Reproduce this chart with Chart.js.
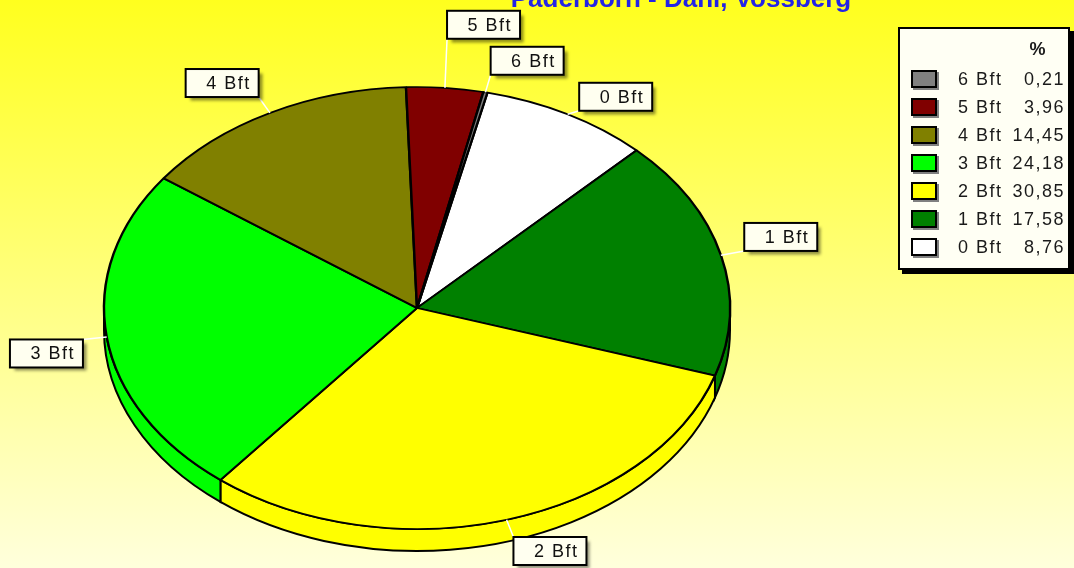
<!DOCTYPE html>
<html>
<head>
<meta charset="utf-8">
<script src="https://cdn.jsdelivr.net/npm/chart.js@4"></script>
<style>
    html, body { margin: 0; padding: 0; }
    body {
        width: 1074px; height: 568px; overflow: hidden; position: relative;
        background: linear-gradient(#ffff1e, #ffffdc);
        font-family: "Liberation Sans", Arial, sans-serif;
    }
    #wrap { position: absolute; left: 0; top: 0; width: 1074px; height: 568px; }
    #legend {
        position: absolute; left: 898px; top: 27px; width: 168px; height: 239px;
        background: #fffff4; border: 2px solid #000; box-shadow: 4px 4px 0 #000;
        color: #1a1a1a; font-size: 18px;
    }
    #legend .row { position: absolute; left: 0; right: 0; height: 28px; line-height: 28px; letter-spacing: 1.5px; }
    #legend .sw {
        position: absolute; left: 11px; top: 5px; width: 22px; height: 14px;
        border: 2px solid #000; box-shadow: 2px 2px 0 #808080;
    }
    #legend .lbl { position: absolute; left: 58px; }
    #legend .val { position: absolute; right: 3px; }
    #legend .head { position: absolute; right: 21px; font-weight: bold; }
</style>
</head>
<body>
<div id="wrap"><canvas id="pieChart" width="1074" height="568"></canvas></div>
<div id="legend"></div>
<script>
    // Wind force share, Paderborn - Dahl, Vossberg
    const categories = ['0 Bft', '1 Bft', '2 Bft', '3 Bft', '4 Bft', '5 Bft', '6 Bft'];
    const percentages = [8.76, 17.58, 30.85, 24.18, 14.45, 3.96, 0.21];
    const sliceColors = ['#ffffff', '#008000', '#ffff00', '#00ff00', '#808000', '#800000', '#808080'];
    const titleText = 'Paderborn - Dahl, Vossberg';

    // ellipse the pie is squashed into, and the label box geometry
    const E = { x: 417, y: 308, rx: 313, ry: 221, depth: 22 };
    const LBL = { w: 73, h: 28, dx: 24, dy: 18, gapX: 16, gapY: 4, shift: 8 };

    function frontParts(a, b) {
        const parts = [];
        const TWO_PI = Math.PI * 2;
        for (let k = Math.floor(a / TWO_PI) - 1; k <= Math.ceil(b / TWO_PI) + 1; k++) {
            const lo = Math.max(a, TWO_PI * k);
            const hi = Math.min(b, TWO_PI * k + Math.PI);
            if (hi > lo) parts.push([lo, hi]);
        }
        return parts;
    }

    const pie3d = {
        id: 'pie3d',
        beforeDatasetsDraw(chart) {
            const ctx = chart.ctx;
            const arcs = chart.getDatasetMeta(0).data;
            // side walls, front half only
            ctx.save();
            ctx.lineWidth = 2;
            ctx.strokeStyle = '#000';
            arcs.forEach((arc, i) => {
                frontParts(arc.startAngle, arc.endAngle).forEach(([lo, hi]) => {
                    ctx.beginPath();
                    ctx.ellipse(E.x, E.y, E.rx, E.ry, 0, lo, hi);
                    ctx.ellipse(E.x, E.y + E.depth, E.rx, E.ry, 0, hi, lo, true);
                    ctx.closePath();
                    ctx.fillStyle = sliceColors[i];
                    ctx.fill();
                    ctx.stroke();
                });
            });
            ctx.restore();
            // top face: let Chart.js draw it into the ellipse
            const a = arcs[0];
            ctx.save();
            ctx.translate(E.x, E.y);
            ctx.scale(E.rx / a.outerRadius, E.ry / a.outerRadius);
            ctx.translate(-a.x, -a.y);
        },
        afterDatasetsDraw(chart) {
            chart.ctx.restore();
        }
    };

    function overlaps(a, b) {
        return a.x0 < b.x0 + LBL.w + LBL.gapX && a.x0 + LBL.w + LBL.gapX > b.x0 &&
               a.y0 < b.y0 + LBL.h + LBL.gapY && a.y0 + LBL.h + LBL.gapY > b.y0;
    }

    const sliceLabels = {
        id: 'sliceLabels',
        afterDraw(chart) {
            const ctx = chart.ctx;
            const arcs = chart.getDatasetMeta(0).data;
            const boxes = arcs.map((arc, i) => {
                const mid = (arc.startAngle + arc.endAngle) / 2;
                const c = Math.cos(mid), s = Math.sin(mid);
                const px = E.x + (E.rx + LBL.dx) * c;
                const py = E.y + (E.ry + LBL.dy) * s;
                return {
                    i: i, c: c, s: s,
                    ex: E.x + E.rx * c, ey: E.y + E.ry * s,
                    x0: c >= 0 ? px : px - LBL.w,
                    y0: s < 0 ? py - LBL.h : py
                };
            });

            // push apart labels that collide
            const placed = [];
            for (let k = boxes.length - 1; k >= 0; k--) {
                const b = boxes[k];
                let hit, guard = 0;
                while ((hit = placed.find(p => overlaps(b, p))) && guard++ < 10) {
                    const up = (b.s < 0) === (b.x0 < hit.x0);
                    b.y0 = up ? hit.y0 - LBL.h - LBL.shift : hit.y0 + LBL.h + LBL.shift;
                }
                placed.push(b);
            }

            ctx.save();
            ctx.strokeStyle = '#ffffff';
            ctx.lineWidth = 1.5;
            boxes.forEach(b => {
                ctx.beginPath();
                ctx.moveTo(b.ex, b.ey);
                ctx.lineTo(b.c >= 0 ? b.x0 : b.x0 + LBL.w, b.s < 0 ? b.y0 + LBL.h : b.y0);
                ctx.stroke();
            });

            ctx.font = '18px "Liberation Sans", Arial, sans-serif';
            if ('letterSpacing' in ctx) ctx.letterSpacing = '1.5px';
            ctx.textAlign = 'right';
            ctx.textBaseline = 'middle';
            boxes.forEach(b => {
                ctx.save();
                ctx.shadowColor = 'rgba(0,0,0,0.45)';
                ctx.shadowBlur = 3;
                ctx.shadowOffsetX = 4;
                ctx.shadowOffsetY = 4;
                ctx.fillStyle = '#fffff0';
                ctx.fillRect(b.x0, b.y0, LBL.w, LBL.h);
                ctx.restore();
                ctx.strokeStyle = '#000';
                ctx.lineWidth = 2;
                ctx.strokeRect(b.x0, b.y0, LBL.w, LBL.h);
                ctx.fillStyle = '#111';
                ctx.fillText(categories[b.i], b.x0 + LBL.w - 8, b.y0 + LBL.h / 2 + 1);
            });

            // title, partly cut off by the top edge
            ctx.letterSpacing = '0px';
            ctx.font = 'bold 26px "Liberation Sans", Arial, sans-serif';
            ctx.fillStyle = '#2424e6';
            ctx.textAlign = 'center';
            ctx.textBaseline = 'alphabetic';
            ctx.fillText(titleText, 681, 7);
            ctx.restore();
        }
    };

    function buildLegend() {
        const legend = document.getElementById('legend');
        const head = document.createElement('div');
        head.className = 'row';
        head.style.top = '6px';
        head.innerHTML = '<span class="head">%</span>';
        legend.appendChild(head);
        for (let i = categories.length - 1, r = 0; i >= 0; i--, r++) {
            const row = document.createElement('div');
            row.className = 'row';
            row.style.top = (36 + r * 28) + 'px';
            row.innerHTML =
                '<span class="sw" style="background:' + sliceColors[i] + '"></span>' +
                '<span class="lbl">' + categories[i] + '</span>' +
                '<span class="val">' + percentages[i].toFixed(2).replace('.', ',') + '</span>';
            legend.appendChild(row);
        }
    }

    buildLegend();

    new Chart(document.getElementById('pieChart'), {
        type: 'pie',
        data: {
            labels: categories,
            datasets: [{
                data: percentages,
                backgroundColor: sliceColors,
                borderColor: '#000',
                borderWidth: 2.2,
                clip: false
            }]
        },
        options: {
            responsive: false,
            devicePixelRatio: 1,
            animation: false,
            rotation: 13,
            plugins: {
                legend: { display: false },
                tooltip: { enabled: false }
            }
        },
        plugins: [pie3d, sliceLabels]
    });
</script>
</body>
</html>
